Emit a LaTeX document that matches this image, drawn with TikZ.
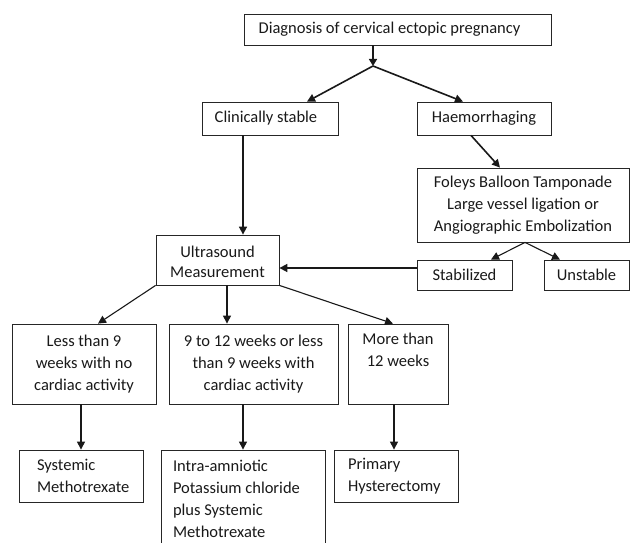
\documentclass[tikz,border=0pt]{standalone}
\usepackage{fontspec}
\setmainfont{Carlito}
\usetikzlibrary{arrows.meta}
\begin{document}
\begin{tikzpicture}[x=1pt,y=-1pt,
  box/.style={draw=black!85,line width=0.8pt,rectangle,inner sep=0pt,align=center,
    font=\fontsize{16.5}{22}\selectfont,text=black!90},
  lbox/.style={box,align=flush left},
  arr/.style={draw=black!90,line width=1.1pt,-{Triangle[length=8pt,width=8pt]}},
  thk/.style={arr,line width=1.6pt}]
\useasboundingbox (0,0) rectangle (630,543);
\node[box,minimum width=307pt,minimum height=31pt] (diag) at (397.5,29.5) {\hspace*{-16pt}\raisebox{-3pt}{Diagnosis of cervical ectopic pregnancy}};
\coordinate (J) at (373,66);
\node[box,minimum width=136pt,minimum height=33pt] (clin) at (270,118.5) {\hspace*{-8pt}\raisebox{-2pt}{Clinically stable}};
\node[box,minimum width=134pt,minimum height=33pt] (haem) at (484,118.5) {\raisebox{-2pt}{Haemorrhaging}};
\node[box,minimum width=212pt,minimum height=74pt] (fol) at (523,205) {Foleys Balloon Tamponade\\Large vessel ligation or\\Angiographic Embolization};
\node[box,minimum width=95pt,minimum height=30pt] (stab) at (464.5,275) {\raisebox{-2pt}{Stabilized}};
\node[box,minimum width=85pt,minimum height=30pt] (unst) at (586.5,275) {\raisebox{-2pt}{Unstable}};
\node[box,minimum width=123pt,minimum height=50pt,font=\fontsize{16.5}{20}\selectfont] (us) at (217.5,260) {\rule{0pt}{16pt}Ultrasound\\Measurement};
\node[box,minimum width=144pt,minimum height=80pt] (less) at (84,364) {Less than 9\\weeks with no\\cardiac activity};
\node[box,minimum width=169pt,minimum height=80pt] (mid) at (253.5,364) {9 to 12 weeks or less\\than 9 weeks with\\cardiac activity};
\node[box,minimum width=100pt,minimum height=80pt] (more) at (398,364) {More than\\12 weeks\\\strut};
\node[lbox,text width=88pt,inner xsep=18pt,minimum height=52pt] (sys) at (81,476) {Systemic\\Methotrexate};
\node[lbox,text width=140pt,inner xsep=12pt,minimum height=98pt] (intra) at (243,499) {Intra-amniotic\\Potassium chloride\\plus Systemic\\Methotrexate};
\node[lbox,text width=96pt,inner xsep=14pt,minimum height=52pt] (prim) at (396,476) {Primary\\Hysterectomy};
% connectors
\draw[thk,-{Triangle[length=7pt,width=8pt]}] (diag.south -| J) -- (J);
\draw[thk] (J) -- ([xshift=37pt]clin.north);
\draw[thk] (J) -- ([xshift=-21pt]haem.north);
\draw[thk] ([xshift=-27pt]clin.south) -- ([xshift=-27pt]clin.south |- us.north);
\draw[thk] ([xshift=-13pt]haem.south) -- ([xshift=-23pt]fol.north);
\draw[arr] ([xshift=2pt]fol.south) -- ([xshift=26.5pt]stab.north);
\draw[arr] ([xshift=2pt]fol.south) -- ([xshift=-26.5pt]unst.north);
\draw[thk] ([yshift=7pt]stab.west) -- ([yshift=7pt]stab.west -| us.east);
\draw[arr] (us.south west) -- ([xshift=14pt]less.north);
\draw[arr] ([xshift=9.5pt]us.south) -- ([xshift=9.5pt]us.south |- mid.north);
\draw[arr] (us.south east) -- ([xshift=-5pt]more.north);
\draw[arr] ([xshift=-3pt]less.south) -- ([xshift=-3pt]less.south |- sys.north);
\draw[arr] ([xshift=-10.5pt]mid.south) -- ([xshift=-10.5pt]mid.south |- intra.north);
\draw[arr] ([xshift=-4pt]more.south) -- ([xshift=-4pt]more.south |- prim.north);
\end{tikzpicture}
\end{document}
